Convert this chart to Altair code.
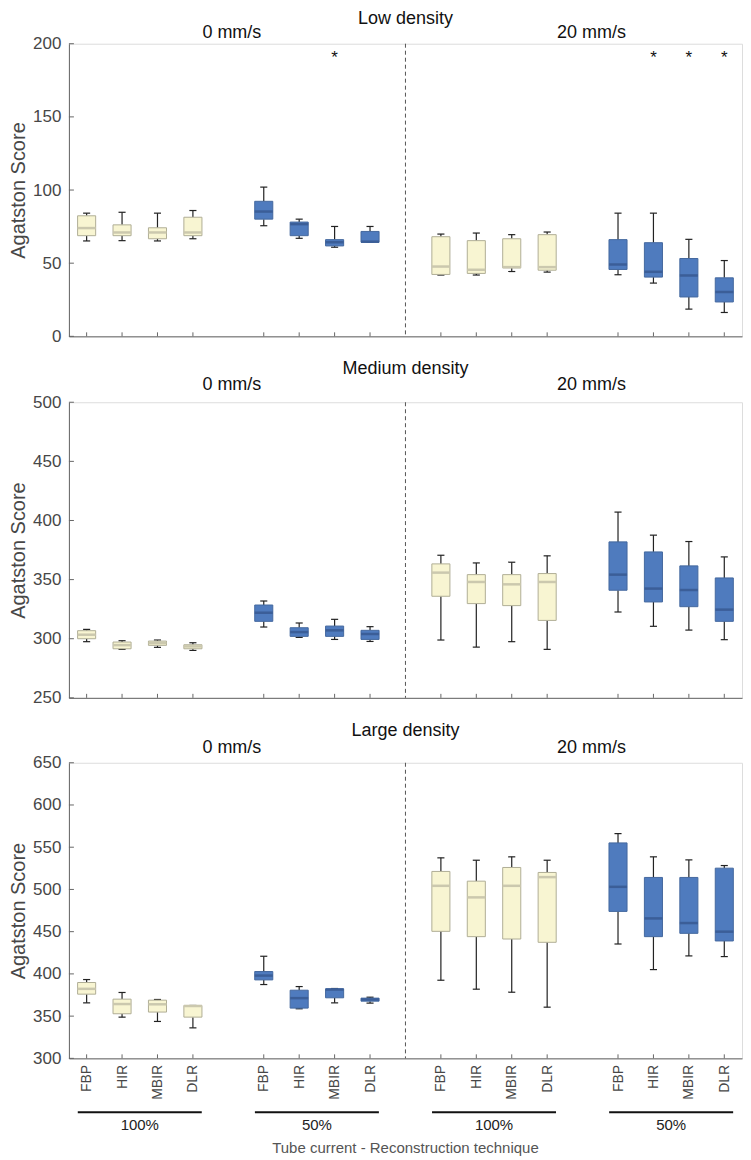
import altair as alt
import pandas as pd

# ---------------- data ----------------
methods = ["FBP", "HIR", "MBIR", "DLR"]
currents = ["100%", "50%"]
speeds = ["0 mm/s", "20 mm/s"]
speed_label_x = [5.1, 15.25]
densities = ["Low density", "Medium density", "Large density"]
positions = [1, 2, 3, 4, 6, 7, 8, 9, 11, 12, 13, 14, 16, 17, 18, 19]
box_method = methods * 4
box_current = ["100%"] * 4 + ["50%"] * 4 + ["100%"] * 4 + ["50%"] * 4
box_speed = ["0 mm/s"] * 8 + ["20 mm/s"] * 8
divider_pos = [10]

# Low density
low_wlo = [65.2, 65.4, 65.2, 66.7, 75.6, 67.0, 60.9, 64.3, 41.9, 41.9, 44.3, 43.9, 42.1, 36.4, 18.6, 16.3]
low_q1 = [68.8, 68.8, 66.7, 68.8, 80.1, 68.8, 61.8, 64.3, 42.3, 43.0, 46.8, 45.2, 45.7, 40.5, 26.9, 23.5]
low_med = [74.0, 71.0, 71.0, 71.0, 85.3, 76.7, 64.3, 64.7, 47.7, 45.5, 47.3, 47.3, 49.1, 44.1, 41.6, 30.3]
low_q3 = [82.4, 76.2, 74.2, 81.4, 92.3, 78.1, 66.1, 71.7, 68.1, 65.4, 66.7, 69.5, 66.1, 64.0, 53.2, 40.0]
low_whi = [84.2, 84.8, 84.2, 86.0, 102.0, 80.1, 75.1, 75.1, 69.9, 70.6, 69.5, 71.3, 84.2, 84.2, 66.3, 51.8]
low_stars = [6, 13, 14, 15]
low_star_level = 192

# Medium density
med_wlo = [297.5, 291.0, 292.7, 290.1, 309.9, 301.1, 299.4, 297.7, 298.9, 292.9, 297.5, 291.0, 322.6, 310.5, 307.3, 299.2]
med_q1 = [300.0, 291.5, 294.4, 291.5, 314.7, 302.0, 302.0, 299.4, 335.9, 329.7, 328.0, 315.5, 341.0, 331.1, 327.1, 314.7]
med_med = [303.4, 294.6, 296.3, 293.5, 322.0, 305.6, 307.1, 304.0, 355.9, 348.0, 346.0, 348.0, 354.2, 342.4, 341.2, 324.6]
med_q3 = [306.8, 297.2, 298.0, 294.9, 328.5, 309.3, 310.7, 307.1, 363.3, 354.2, 354.2, 355.1, 381.9, 373.4, 361.6, 351.4]
med_whi = [307.9, 298.3, 298.9, 296.6, 331.9, 313.3, 316.4, 310.2, 370.6, 364.1, 364.7, 370.1, 407.1, 387.6, 382.2, 369.2]

# Large density
lg_wlo = [365.7, 348.8, 343.7, 336.1, 387.4, 358.7, 365.7, 365.4, 392.5, 381.9, 378.3, 360.6, 435.4, 405.1, 421.3, 420.5]
lg_q1 = [376.0, 352.8, 354.8, 348.8, 392.9, 359.5, 371.7, 367.7, 450.4, 444.1, 441.3, 437.4, 474.0, 444.1, 448.0, 439.0]
lg_med = [382.3, 364.3, 364.0, 362.0, 398.0, 371.3, 381.5, 369.7, 504.3, 490.6, 504.3, 514.6, 503.1, 465.7, 460.2, 450.0]
lg_q3 = [389.8, 370.1, 368.9, 362.6, 402.8, 380.7, 382.3, 371.3, 521.3, 509.8, 526.0, 520.1, 555.1, 514.2, 514.2, 525.2]
lg_whi = [393.3, 378.0, 369.7, 362.6, 420.9, 385.0, 382.7, 372.4, 537.4, 534.6, 538.6, 534.6, 566.1, 538.6, 535.0, 528.3]

low_ticks = [0, 50, 100, 150, 200]
med_ticks = [250, 300, 350, 400, 450, 500]
lg_ticks = [300, 350, 400, 450, 500, 550, 600, 650]

group_labels = ["100%", "50%", "100%", "50%"]
x_title = "Tube current - Reconstruction technique"
y_title = "Agatston Score"

# ---------------- style ----------------
FONT = "Liberation Sans"
W = 674
AXIS_COLOR = "#666666"
TEXT_GRAY = "#474747"

fill_scale = alt.Scale(domain=currents, range=["#F8F5D2", "#4F7BBE"])
stroke_scale = alt.Scale(domain=currents, range=["#B0AE96", "#44689F"])
median_scale = alt.Scale(domain=currents, range=["#CBC8AE", "#3B5E98"])

label_array = [""] * 21
for p, m in zip(positions, box_method):
    label_array[p] = m
label_expr = "[" + ",".join("'%s'" % s for s in label_array) + "][datum.value]"

x_scale = alt.Scale(domain=[0.5, 19.5], nice=False, zero=False)


def panel(title, wlo, q1, med, q3, whi, ticks, H, title_dy, sub_dy,
          stars=None, star_level=None, bottom=False):
    y_scale = alt.Scale(domain=[ticks[0], ticks[-1]], nice=False, zero=False)
    x_axis = alt.Axis(values=positions, labels=bottom, labelExpr=label_expr,
                      labelAngle=270, labelFontSize=14, labelColor=TEXT_GRAY,
                      labelPadding=6, ticks=False, domainColor=AXIS_COLOR,
                      grid=False, title=None, labelFont=FONT)
    y_axis = alt.Axis(values=ticks, ticks=False, labelPadding=8, labelFontSize=17,
                      labelColor=TEXT_GRAY, title=y_title, titleFontSize=20,
                      titleFontWeight="normal", titleColor=TEXT_GRAY,
                      domainColor=AXIS_COLOR, grid=False, titlePadding=4,
                      labelFont=FONT, titleFont=FONT)

    def X(f):
        return alt.X(f, type="quantitative", scale=x_scale, axis=x_axis)

    def Y(f):
        return alt.Y(f, type="quantitative", scale=y_scale, axis=y_axis)

    df = pd.DataFrame({"pos": positions, "method": box_method, "current": box_current,
                       "speed": box_speed, "wlo": wlo, "q1": q1, "med": med,
                       "q3": q3, "whi": whi})
    base = alt.Chart(df).transform_calculate(
        left="datum.pos - 0.255", right="datum.pos + 0.255",
        capl="datum.pos - 0.1", capr="datum.pos + 0.1")

    divider = alt.Chart(pd.DataFrame({"x": divider_pos})).mark_rule(
        color="#555555", strokeDash=[4, 3], strokeWidth=1
    ).encode(x=X("x"), y=alt.value(0), y2=alt.value(H))

    wl = base.mark_rule(color="#222222", strokeWidth=1.2).encode(x=X("pos"), y=Y("wlo"), y2="q1:Q")
    wh = base.mark_rule(color="#222222", strokeWidth=1.2).encode(x=X("pos"), y=Y("q3"), y2="whi:Q")
    cl = base.mark_rule(color="#222222", strokeWidth=1.2).encode(x=X("capl:Q"), x2="capr:Q", y=Y("wlo"))
    ch = base.mark_rule(color="#222222", strokeWidth=1.2).encode(x=X("capl:Q"), x2="capr:Q", y=Y("whi"))
    box = base.mark_rect(strokeWidth=1).encode(
        x=X("left:Q"), x2="right:Q", y=Y("q1"), y2="q3:Q",
        fill=alt.Fill("current:N", scale=fill_scale, legend=None),
        stroke=alt.Stroke("current:N", scale=stroke_scale, legend=None))
    mline = base.mark_rule(strokeWidth=2.5).encode(
        x=X("left:Q"), x2="right:Q", y=Y("med"),
        color=alt.Color("current:N", scale=median_scale, legend=None))

    xt = alt.Chart(pd.DataFrame({"pos": positions})).mark_rule(color=AXIS_COLOR).encode(
        x=X("pos"), y=alt.value(H), y2=alt.value(H - 4))
    yt = alt.Chart(pd.DataFrame({"v": ticks})).mark_rule(color=AXIS_COLOR).encode(
        y=Y("v"), x=alt.value(0), x2=alt.value(5))

    ttl = alt.Chart(pd.DataFrame({"t": [title], "x": divider_pos})).mark_text(
        fontSize=18, font=FONT, color="#111111", baseline="middle"
    ).encode(x=X("x"), y=alt.value(title_dy), text="t:N")

    sp = pd.DataFrame({"t": speeds, "x": speed_label_x})
    sub = alt.Chart(sp).mark_text(
        fontSize=18, font=FONT, color="#111111", baseline="middle"
    ).encode(x=X("x"), y=alt.value(sub_dy), text="t:N")

    layers = [divider, wl, wh, cl, ch, box, mline, xt, yt, ttl, sub]

    if stars:
        sdf = pd.DataFrame({"pos": [positions[i] for i in stars],
                            "lvl": [star_level] * len(stars), "t": ["*"] * len(stars)})
        st = alt.Chart(sdf).mark_text(fontSize=17, font=FONT, color="#111111",
                                      baseline="middle", dy=3).encode(
            x=X("pos"), y=Y("lvl"), text="t:N")
        layers.append(st)

    if bottom:
        gdf = pd.DataFrame({
            "t": group_labels,
            "start": [positions[i * 4] - 0.25 for i in range(4)],
            "end": [positions[i * 4 + 3] + 0.25 for i in range(4)],
            "mid": [sum(positions[i * 4:i * 4 + 4]) / 4 for i in range(4)],
        })
        gl = alt.Chart(gdf).mark_rule(color="#111111", strokeWidth=2).encode(
            x=X("start:Q"), x2="end:Q", y=alt.value(H + 54))
        gt = alt.Chart(gdf).mark_text(fontSize=15, font=FONT, color="#222222",
                                      baseline="middle").encode(
            x=X("mid:Q"), y=alt.value(H + 67), text="t:N")
        at = alt.Chart(pd.DataFrame({"t": [x_title], "x": divider_pos})).mark_text(
            fontSize=15, font=FONT, color="#555555", baseline="middle").encode(
            x=X("x"), y=alt.value(H + 90), text="t:N")
        layers += [gl, gt, at]

    return alt.layer(*layers).properties(width=W, height=H)


top = panel(densities[0], low_wlo, low_q1, low_med, low_q3, low_whi, low_ticks,
            293, -25, -11, stars=low_stars, star_level=low_star_level)
mid = panel(densities[1], med_wlo, med_q1, med_med, med_q3, med_whi, med_ticks,
            296, -33, -17)
bot = panel(densities[2], lg_wlo, lg_q1, lg_med, lg_q3, lg_whi, lg_ticks,
            296, -32, -15, bottom=True)

chart = alt.vconcat(top, mid, bot, spacing=14).properties(
    padding={"left": 0, "top": 0, "right": 0, "bottom": 0}
).configure_view(stroke=None).configure(font=FONT)

chart.save("out.html", embed_options={"renderer": "svg", "actions": False})
